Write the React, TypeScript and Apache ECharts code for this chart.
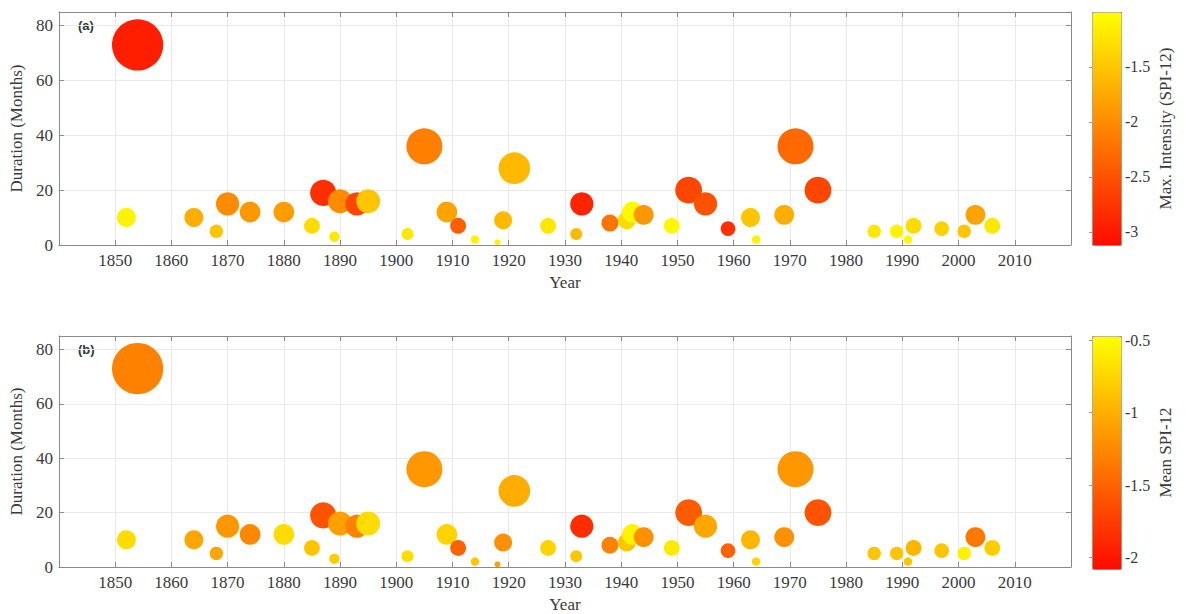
import React, { useEffect, useRef } from "react";
import * as echarts from "echarts";

const years = [1852, 1854, 1864, 1868, 1870, 1874, 1880, 1885, 1887, 1889, 1890, 1893, 1895, 1902, 1905, 1909, 1911, 1914, 1918, 1919, 1921, 1927, 1932, 1933, 1938, 1941, 1942, 1944, 1949, 1952, 1955, 1959, 1963, 1964, 1969, 1971, 1975, 1985, 1989, 1991, 1992, 1997, 2001, 2003, 2006];
const durations = [10, 73, 10, 5, 15, 12, 12, 7, 19, 3, 16, 15, 16, 4, 36, 12, 7, 2, 1, 9, 28, 7, 4, 15, 8, 9, 12, 11, 7, 20, 15, 6, 10, 2, 11, 36, 20, 5, 5, 2, 7, 6, 5, 11, 7];
const maxIntensity = [-1.1, -2.95, -1.7, -1.5, -2.0, -1.9, -1.85, -1.3, -2.8, -1.2, -2.0, -2.6, -1.5, -1.2, -2.1, -1.8, -2.4, -1.1, -1.1, -1.6, -1.6, -1.2, -1.6, -2.9, -2.2, -1.3, -1.05, -1.9, -1.05, -2.6, -2.5, -2.8, -1.5, -1.1, -1.7, -2.3, -2.6, -1.2, -1.1, -1.05, -1.3, -1.4, -1.5, -1.8, -1.2];
const meanSpi = [-0.7, -1.3, -1.05, -1.05, -1.15, -1.25, -0.7, -0.85, -1.6, -0.8, -1.1, -1.3, -0.7, -0.7, -1.15, -0.75, -1.5, -0.85, -1.1, -1.2, -1.0, -0.75, -0.85, -1.85, -1.3, -0.85, -0.55, -1.2, -0.6, -1.55, -1.05, -1.5, -0.95, -0.75, -1.2, -1.15, -1.6, -0.85, -0.85, -0.85, -0.95, -0.85, -0.55, -1.35, -0.8];

const intensityTicks = [-3, -2.5, -2, -1.5];
const meanTicks = [-2, -1.5, -1, -0.5];
const intensityRange = [-3.12, -1.0];
const meanRange = [-2.08, -0.47];
const autumn = ["#ff0a00", "#ffff00"];

const FONT = "Liberation Serif";
const TXT = "#3a3a3a";
const AXIS = "#8a8a8a";

function mainAxes(gridIndex: number) {
  const xs = [
    {
      type: "value", gridIndex, min: 1840, max: 2020, interval: 10, position: "bottom",
      name: "Year", nameLocation: "middle", nameGap: 29,
      nameTextStyle: { fontFamily: FONT, fontSize: 17, color: TXT },
      axisLine: { show: true, onZero: false, lineStyle: { color: AXIS } },
      axisTick: { show: true, inside: true, length: 5, lineStyle: { color: AXIS } },
      axisLabel: {
        fontFamily: FONT, fontSize: 17, color: TXT, margin: 7,
        formatter: (v: number) => (v === 1840 || v === 2020 ? "" : String(v)),
      },
      splitLine: { show: true, lineStyle: { color: "#e9e9e9" } },
    },
    {
      type: "value", gridIndex, min: 1840, max: 2020, interval: 10, position: "top",
      axisLine: { show: true, onZero: false, lineStyle: { color: AXIS } },
      axisTick: { show: true, inside: true, length: 5, lineStyle: { color: AXIS } },
      axisLabel: { show: false },
      splitLine: { show: false },
    },
  ];
  const ys = [
    {
      type: "value", gridIndex, min: 0, max: 85, interval: 20, position: "left",
      name: "Duration (Months)", nameLocation: "middle", nameGap: 31,
      nameTextStyle: { fontFamily: FONT, fontSize: 17, color: TXT },
      axisLine: { show: true, onZero: false, lineStyle: { color: AXIS } },
      axisTick: { show: true, inside: true, length: 5, lineStyle: { color: AXIS } },
      axisLabel: { fontFamily: FONT, fontSize: 17, color: TXT, margin: 6 },
      splitLine: { show: true, lineStyle: { color: "#e9e9e9" } },
    },
    {
      type: "value", gridIndex, min: 0, max: 85, interval: 20, position: "right",
      axisLine: { show: true, onZero: false, lineStyle: { color: AXIS } },
      axisTick: { show: true, inside: true, length: 5, lineStyle: { color: AXIS } },
      axisLabel: { show: false },
      splitLine: { show: false },
    },
  ];
  return { xs, ys };
}

function colorbarAxes(gridIndex: number, range: number[], ticks: number[], name: string) {
  const x = { type: "value", gridIndex, min: 0, max: 1, show: false };
  const y = {
    type: "value", gridIndex, min: range[0], max: range[1], position: "right",
    name, nameLocation: "middle", nameGap: 36, nameRotate: 90,
    nameTextStyle: { fontFamily: FONT, fontSize: 17, color: TXT },
    axisLine: { show: false },
    axisTick: { show: true, inside: true, length: 3, customValues: ticks, lineStyle: { color: "#999" } },
    axisLabel: { show: true, customValues: ticks, fontFamily: FONT, fontSize: 16, color: TXT, margin: 4, formatter: (v: number) => String(v) },
    splitLine: { show: false },
  };
  const yl = {
    type: "value", gridIndex, min: range[0], max: range[1], position: "left",
    axisLine: { show: false },
    axisTick: { show: true, inside: true, length: 3, customValues: ticks, lineStyle: { color: "#999" } },
    axisLabel: { show: false },
    splitLine: { show: false },
  };
  return { x, y, yl };
}

export default function App() {
  const ref = useRef<HTMLDivElement>(null);
  useEffect(() => {
    if (!ref.current) return;
    const chart = echarts.init(ref.current, null, { renderer: "svg" });
    const a = mainAxes(0);
    const b = mainAxes(1);
    const ca = colorbarAxes(2, intensityRange, intensityTicks, "Max. Intensity (SPI-12)");
    const cb = colorbarAxes(3, meanRange, meanTicks, "Mean SPI-12");

    const dataA = years.map((y, i) => [y, durations[i], maxIntensity[i]]);
    const dataB = years.map((y, i) => [y, durations[i], meanSpi[i]]);
    const size = (v: number[]) => 6 * Math.sqrt(v[1]);

    chart.setOption({
      animation: false,
      backgroundColor: "#ffffff",
      textStyle: { fontFamily: FONT },
      grid: [
        { left: 57, top: 12, width: 1014, height: 233 },
        { left: 57, top: 336, width: 1014, height: 233 },
        { left: 1092, top: 12, width: 29, height: 233 },
        { left: 1092, top: 336, width: 29, height: 233 },
      ],
      xAxis: [...a.xs, ...b.xs, ca.x, cb.x],
      yAxis: [...a.ys, ...b.ys, ca.y, cb.y, ca.yl, cb.yl],
      visualMap: [
        {
          type: "continuous", seriesIndex: 0, dimension: 2,
          min: intensityRange[0], max: intensityRange[1],
          inRange: { color: autumn }, calculable: false, hoverLink: false,
          left: 1092, top: 12, itemWidth: 29, itemHeight: 233, padding: 0,
          text: ["", ""], borderColor: "#999", borderWidth: 1,
        },
        {
          type: "continuous", seriesIndex: 1, dimension: 2,
          min: meanRange[0], max: meanRange[1],
          inRange: { color: autumn }, calculable: false, hoverLink: false,
          left: 1092, top: 336, itemWidth: 29, itemHeight: 233, padding: 0,
          text: ["", ""], borderColor: "#999", borderWidth: 1,
        },
      ],
      graphic: [
        { type: "text", left: 78, top: 19, style: { text: "(a)", fontFamily: "Liberation Sans", fontSize: 13, fontWeight: "bold", fill: "#333" } },
        { type: "text", left: 78, top: 343, style: { text: "(b)", fontFamily: "Liberation Sans", fontSize: 13, fontWeight: "bold", fill: "#333" } },
      ],
      series: [
        { type: "scatter", xAxisIndex: 0, yAxisIndex: 0, data: dataA, symbolSize: size, itemStyle: { opacity: 1 } },
        { type: "scatter", xAxisIndex: 2, yAxisIndex: 2, data: dataB, symbolSize: size, itemStyle: { opacity: 1 } },
        { type: "scatter", xAxisIndex: 4, yAxisIndex: 4, data: [] },
        { type: "scatter", xAxisIndex: 5, yAxisIndex: 5, data: [] },
      ],
    });
    return () => chart.dispose();
  }, []);
  return <div ref={ref} style={{ position: "fixed", left: 0, top: 0, width: 1186, height: 614 }} />;
}
